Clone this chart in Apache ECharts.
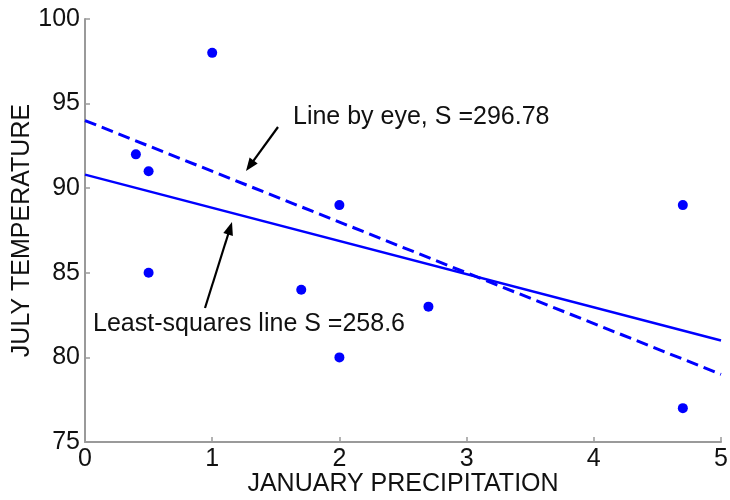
<!DOCTYPE html>
<html>
<head>
<meta charset="utf-8">
<script src="https://cdn.jsdelivr.net/npm/echarts@6/dist/echarts.min.js"></script>
<style>html,body{margin:0;padding:0;background:#fff;}#c{width:730px;height:500px;}</style>
</head>
<body>
<div id="c"></div>
<script>
// Data
var precip = [0.4, 0.5, 0.5, 1.0, 1.7, 2.0, 2.0, 2.7, 4.7, 4.7];
var temp   = [92, 91, 85, 98, 84, 89, 80, 83, 89, 77];
var lsLineX = [0, 5];
var lsLineY = [90.8, 81.0];
var eyeLineX = [0, 5];
var eyeLineY = [94.0, 79.0];
var xTicks = [0, 1, 2, 3, 4, 5];
var yTicks = [75, 80, 85, 90, 95, 100];
var xTitle = 'JANUARY PRECIPITATION';
var yTitle = 'JULY TEMPERATURE';
var eyeLabel = 'Line by eye, S =296.78';
var lsLabel = 'Least-squares line S =258.6';

var FONT = '"Liberation Sans", Arial, Helvetica, sans-serif';
var BLUE = '#0000ff';
var AXIS = '#9a9a9a';

function pairs(xs, ys) { return xs.map(function (x, i) { return [x, ys[i]]; }); }

var chart = echarts.init(document.getElementById('c'), null, { renderer: 'canvas' });

function arrow(x1, y1, x2, y2) {
  var dx = x2 - x1, dy = y2 - y1, L = Math.sqrt(dx * dx + dy * dy);
  var ux = dx / L, uy = dy / L, hl = 13, hw = 5;
  var bx = x2 - ux * hl, by = y2 - uy * hl;
  return [
    { type: 'line', shape: { x1: x1, y1: y1, x2: bx + ux * 2, y2: by + uy * 2 }, style: { stroke: '#000', lineWidth: 2.2 } },
    { type: 'polygon', shape: { points: [[x2, y2], [bx - uy * hw, by + ux * hw], [bx + uy * hw, by - ux * hw]] }, style: { fill: '#000' } }
  ];
}

var graphics = [].concat(
  arrow(278, 127, 246, 171),
  arrow(205, 308, 232, 222),
  [
    { type: 'text', left: 293, top: 105, style: { text: eyeLabel, font: '25px ' + FONT, fill: '#111' } },
    { type: 'text', left: 93, top: 312, style: { text: lsLabel, font: '25px ' + FONT, fill: '#111' } }
  ]
);

chart.setOption({
  backgroundColor: '#fff',
  animation: false,
  grid: { left: 85, right: 9, top: 19, bottom: 58, containLabel: false, outerBoundsMode: 'none' },
  xAxis: {
    type: 'value', min: 0, max: 5, interval: 1,
    name: xTitle, nameLocation: 'middle', nameGap: 30, nameMoveOverlap: false,
    nameTextStyle: { fontSize: 25, fontFamily: FONT, color: '#111' },
    axisLine: { show: true, lineStyle: { color: AXIS, width: 2 } },
    axisTick: { show: true, inside: true, length: 5, lineStyle: { color: AXIS, width: 1.5 } },
    axisLabel: { fontSize: 25, fontFamily: FONT, color: '#111', margin: 5, hideOverlap: false,
      formatter: function (v) { return xTicks.indexOf(v) >= 0 ? String(v) : ''; } },
    splitLine: { show: false }
  },
  yAxis: {
    type: 'value', min: 75, max: 100, interval: 5,
    name: yTitle, nameLocation: 'middle', nameGap: 50, nameRotate: 90, nameMoveOverlap: false,
    nameTextStyle: { fontSize: 25, fontFamily: FONT, color: '#111' },
    axisLine: { show: true, lineStyle: { color: AXIS, width: 2 } },
    axisTick: { show: true, inside: true, length: 5, lineStyle: { color: AXIS, width: 1.5 } },
    axisLabel: { fontSize: 25, fontFamily: FONT, color: '#111', margin: 5, hideOverlap: false,
      formatter: function (v) { return yTicks.indexOf(v) >= 0 ? String(v) : ''; } },
    splitLine: { show: false }
  },
  series: [
    { type: 'line', data: pairs(eyeLineX, eyeLineY), showSymbol: false, symbol: 'none',
      lineStyle: { color: BLUE, width: 3, type: [12, 6] }, z: 2 },
    { type: 'line', data: pairs(lsLineX, lsLineY), showSymbol: false, symbol: 'none',
      lineStyle: { color: BLUE, width: 2.5 }, z: 2 },
    { type: 'scatter', data: pairs(precip, temp), symbol: 'circle', symbolSize: 10,
      itemStyle: { color: BLUE, opacity: 1 }, z: 3 }
  ],
  graphic: graphics
});
</script>
</body>
</html>
